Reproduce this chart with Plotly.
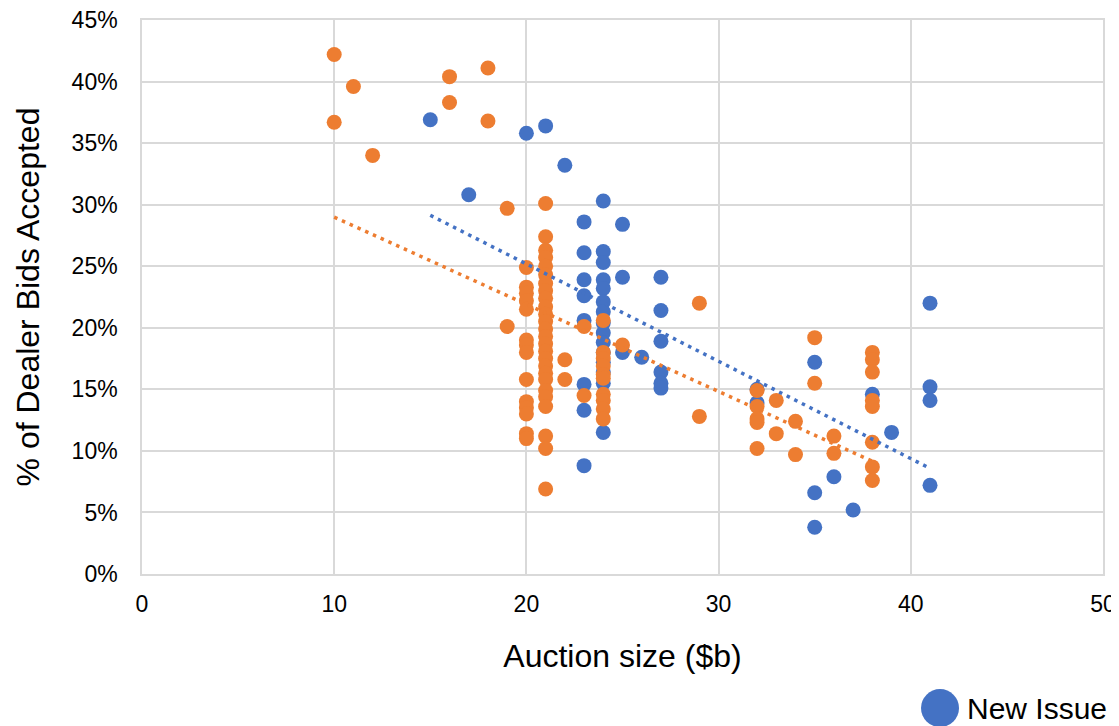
import numpy as np
import plotly.graph_objects as go

# ---- data (auction size in $b, % of dealer bids accepted) ----
new_x = [15, 17, 20, 21, 22,
         23, 23, 23, 23, 23, 23, 23, 23,
         24, 24, 24, 24, 24, 24, 24, 24, 24, 24, 24, 24, 24, 24, 24,
         25, 25, 25, 26,
         27, 27, 27, 27, 27, 27,
         32, 32, 35, 35, 35, 36, 37, 38, 39,
         41, 41, 41, 41]
new_y = [36.9, 30.8, 35.8, 36.4, 33.2,
         28.6, 26.1, 23.9, 22.6, 20.6, 15.4, 13.3, 8.8,
         30.3, 26.2, 25.3, 23.9, 23.2, 22.1, 21.3, 20.4, 19.6, 18.8, 18.0, 17.2, 16.4, 15.5, 11.5,
         28.4, 24.1, 18.0, 17.6,
         24.1, 21.4, 18.9, 16.4, 15.5, 15.1,
         15.0, 13.9, 17.2, 6.6, 3.8, 7.9, 5.2, 14.6, 11.5,
         22.0, 15.2, 14.1, 7.2]

reo_x = [10, 10, 11, 12, 16, 16, 18, 18, 19, 19,
         20, 20, 20, 20, 20, 20, 20, 20, 20, 20, 20, 20, 20, 20,
         21, 21, 21, 21, 21, 21, 21, 21, 21, 21, 21, 21, 21, 21, 21, 21, 21,
         21, 21, 21, 21, 21, 21, 21, 21, 21,
         22, 22, 23, 23,
         24, 24, 24, 24, 24, 24, 24, 24, 24, 24,
         25, 29, 29,
         32, 32, 32, 32, 32, 33, 33, 34, 34, 35, 35, 36, 36,
         38, 38, 38, 38, 38, 38, 38, 38]
reo_y = [42.2, 36.7, 39.6, 34.0, 40.4, 38.3, 41.1, 36.8, 29.7, 20.1,
         24.9, 23.3, 22.8, 22.2, 21.5, 19.0, 18.6, 18.0, 15.8, 14.0, 13.5, 13.0, 11.4, 11.0,
         30.1, 27.4, 26.3, 25.7, 25.0, 24.3, 23.6, 23.0, 22.4, 21.7, 21.1, 20.5, 19.9, 19.3, 18.7, 18.1, 17.5,
         16.9, 16.3, 15.8, 14.9, 14.4, 13.6, 11.2, 10.2, 6.9,
         17.4, 15.8, 20.1, 14.5,
         20.6, 18.0, 17.5, 16.9, 16.2, 15.9, 14.6, 14.1, 13.4, 12.6,
         18.6, 22.0, 12.8,
         14.9, 13.6, 12.6, 12.3, 10.2, 14.1, 11.4, 12.4, 9.7, 19.2, 15.5, 11.2, 9.8,
         18.0, 17.4, 16.4, 14.1, 13.6, 10.7, 8.7, 7.6]

series_names = ["New Issue", "Reopening"]
x_ticks = [0, 10, 20, 30, 40, 50]
y_ticks = [0, 5, 10, 15, 20, 25, 30, 35, 40, 45]

BLUE = "#4472C4"
ORANGE = "#ED7D31"
FONT = "Liberation Sans, Arial, sans-serif"


def trend(xs, ys):
    xs = np.asarray(xs, float)
    ys = np.asarray(ys, float)
    m, b = np.polyfit(xs, ys, 1)
    tx = np.array([xs.min(), xs.max()])
    return tx, m * tx + b


fig = go.Figure()
fig.add_trace(go.Scatter(x=new_x, y=new_y, mode="markers", name=series_names[0],
                         marker=dict(color=BLUE, size=15, line=dict(width=0)),
                         showlegend=False))
fig.add_trace(go.Scatter(x=reo_x, y=reo_y, mode="markers", name=series_names[1],
                         marker=dict(color=ORANGE, size=15, line=dict(width=0)),
                         showlegend=False))
tx, ty = trend(new_x, new_y)
fig.add_trace(go.Scatter(x=tx, y=ty, mode="lines", showlegend=False, hoverinfo="skip",
                         line=dict(color=BLUE, width=3.5, dash="3.5px,5px")))
tx, ty = trend(reo_x, reo_y)
fig.add_trace(go.Scatter(x=tx, y=ty, mode="lines", showlegend=False, hoverinfo="skip",
                         line=dict(color=ORANGE, width=3.5, dash="3.5px,5px")))

# legend (drawn as marker + label below the plot, bottom-right)
LEG_Y = -0.242
fig.add_shape(type="circle", xref="paper", yref="paper",
              xsizemode="pixel", ysizemode="pixel",
              xanchor=0.8304, yanchor=LEG_Y, x0=-19, x1=19, y0=-19, y1=19,
              fillcolor=BLUE, line=dict(width=0))
fig.add_annotation(text=series_names[0], xref="paper", yref="paper",
                   x=0.8564, y=LEG_Y, xanchor="left", yanchor="middle",
                   showarrow=False, font=dict(size=30, family=FONT, color="#000000"))

GRID = "#D9D9D9"
fig.update_layout(
    width=1111, height=718,
    margin=dict(l=134, r=16, t=12, b=152, autoexpand=False),
    paper_bgcolor="white", plot_bgcolor="white",
    font=dict(family=FONT, color="#000000", size=23),
    showlegend=False,
    xaxis=dict(range=[0, 50], tickvals=x_ticks, ticktext=[str(v) for v in x_ticks],
               showgrid=True, gridcolor=GRID, gridwidth=1.5, zeroline=False,
               showline=True, linecolor=GRID, linewidth=1.5, mirror=True,
               ticks="", ticklabelstandoff=9, automargin=False,
               ticklabeloverflow="allow",
               tickfont=dict(size=23),
               title=dict(text="Auction size ($b)", font=dict(size=32), standoff=28)),
    yaxis=dict(range=[0, 45], tickvals=y_ticks, ticktext=[f"{v}%" for v in y_ticks],
               showgrid=True, gridcolor=GRID, gridwidth=1.5, zeroline=False,
               showline=True, linecolor=GRID, linewidth=1.5, mirror=True,
               ticks="", ticklabelstandoff=18, automargin=False,
               ticklabeloverflow="allow",
               tickfont=dict(size=23),
               title=dict(text="% of Dealer Bids Accepted", font=dict(size=32), standoff=22)),
)

fig.write_html("out.html")
